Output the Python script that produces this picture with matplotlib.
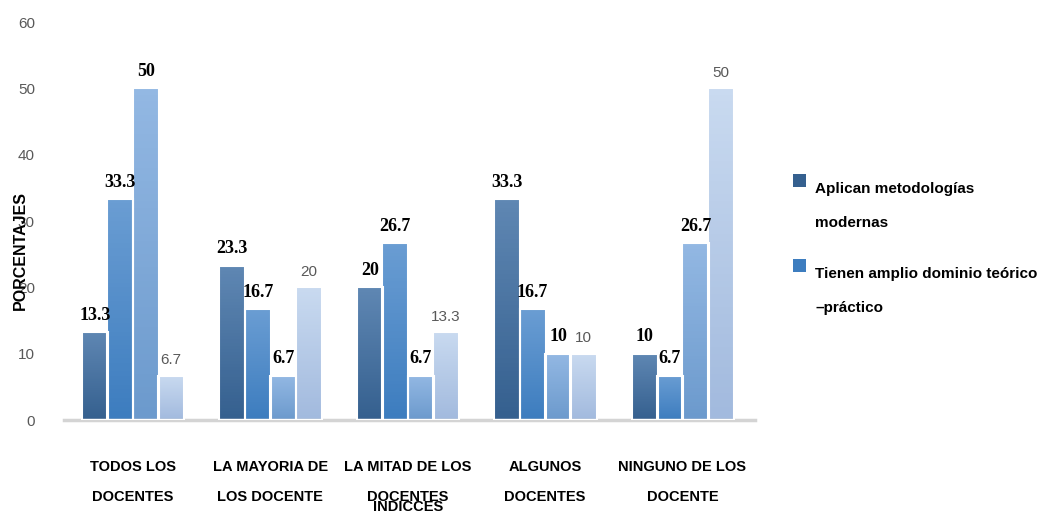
import matplotlib
matplotlib.use("Agg")
import matplotlib.pyplot as plt
import numpy as np
from matplotlib.colors import LinearSegmentedColormap
from matplotlib.patches import Rectangle

categories = ["TODOS LOS\nDOCENTES", "LA MAYORIA DE\nLOS DOCENTE", "LA MITAD DE LOS\nDOCENTES",
              "ALGUNOS\nDOCENTES", "NINGUNO DE LOS\nDOCENTE"]
serie_1 = [13.3, 23.3, 20, 33.3, 10]
serie_2 = [33.3, 16.7, 26.7, 16.7, 6.7]
serie_3 = [50, 6.7, 6.7, 10, 26.7]
serie_4 = [6.7, 20, 13.3, 10, 50]
legend_labels = ["Aplican metodologías\nmodernas", "Tienen amplio dominio teórico\n–práctico"]
yticks = [0, 10, 20, 30, 40, 50, 60]

series = [serie_1, serie_2, serie_3, serie_4]
# (top colour, bottom colour) for the vertical gradient of each series
grads = [("#5f87b3", "#35608f"), ("#6a9dd3", "#3d7dbf"),
         ("#93b8e3", "#6c9acd"), ("#c9daf0", "#a2bade")]

fig = plt.figure(figsize=(10.41, 5.13), dpi=100)
ax = fig.add_axes([0.0615, 0.181, 0.664, 0.776])

x = np.arange(len(categories))
width = 0.19
offsets = [-0.275, -0.09, 0.095, 0.28]

for s, (vals, (ctop, cbot), off) in enumerate(zip(series, grads, offsets)):
    bars = ax.bar(x + off, vals, width, color=cbot, edgecolor="white", linewidth=1.5, zorder=2)
    cmap = LinearSegmentedColormap.from_list(f"g{s}", [cbot, ctop])
    for b in bars:
        bx, by = b.get_x(), b.get_y()
        bw, bh = b.get_width(), b.get_height()
        im = ax.imshow(np.linspace(0, 1, 50).reshape(-1, 1), cmap=cmap, origin="lower",
                       extent=[bx, bx + bw, by, by + bh], aspect="auto", zorder=2.5)
        im.set_clip_path(b)
        edge = Rectangle((bx, by), bw, bh, fill=False, edgecolor="white", linewidth=1.5, zorder=3)
        ax.add_patch(edge)
    for b, v in zip(bars, vals):
        txt = f"{v:g}"
        if s < 3:
            ax.annotate(txt, (b.get_x() + b.get_width() / 2, v), xytext=(0, 6),
                        textcoords="offset points", ha="center", va="bottom", zorder=6,
                        fontsize=13, fontweight="bold", family="Liberation Serif", color="black")
        else:
            ax.annotate(txt, (b.get_x() + b.get_width() / 2, v), xytext=(0, 6),
                        textcoords="offset points", ha="center", va="bottom", zorder=6,
                        fontsize=11, color="#595959", family="Liberation Sans")

ax.set_xlim(-0.5, 4.53)
ax.set_ylim(0, 60)
ax.set_yticks(yticks)
ax.set_xticks(x)
ax.set_xticklabels(categories, fontsize=10.5, fontweight="bold", family="Liberation Sans",
                   linespacing=2.4)
for t in ax.get_yticklabels():
    t.set_family("Liberation Sans")
ax.tick_params(axis="y", length=0, pad=21, labelsize=11, labelcolor="#595959")
ax.tick_params(axis="x", length=0, pad=29)
for sp in ["top", "right", "left"]:
    ax.spines[sp].set_visible(False)
ax.spines["bottom"].set_color("#d4d4d4")
ax.spines["bottom"].set_linewidth(2.5)

fig.text(20 / 1041, 1 - 250 / 513, "PORCENTAJES", rotation=90, ha="center", va="center",
         fontsize=11.5, fontweight="bold", family="Liberation Sans")
fig.text(408 / 1041, 1 - 507 / 513, "INDICCES", ha="center", va="center",
         fontsize=10.5, fontweight="bold", family="Liberation Sans")

# legend (only two entries, as in the original)
leg_y = [180, 265]
for (lab, (ctop, cbot)), y in zip(zip(legend_labels, grads[:2]), leg_y):
    fig.patches.append(Rectangle((793 / 1041, 1 - (y + 7) / 513), 13 / 1041, 13 / 513,
                                 transform=fig.transFigure, facecolor=cbot, edgecolor="none"))
    fig.text(815 / 1041, 1 - (y + 2) / 513, lab, ha="left", va="top", fontsize=11,
             fontweight="bold", family="Liberation Sans", linespacing=2.8)

fig.savefig("out.png", dpi=100)
